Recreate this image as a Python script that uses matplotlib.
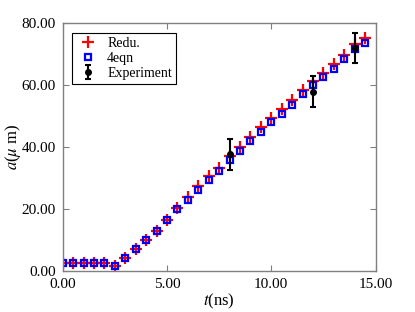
import numpy as np
import matplotlib
matplotlib.use('Agg')
import matplotlib.pyplot as plt

# time points (ns)
t = [0.0, 0.5, 1.0, 1.5, 2.0, 2.5, 3.0, 3.5, 4.0, 4.5,
     5.0, 5.5, 6.0, 6.5, 7.0, 7.5, 8.0, 8.5, 9.0, 9.5,
     10.0, 10.5, 11.0, 11.5, 12.0, 12.5, 13.0, 13.5, 14.0, 14.5]

# 4eqn model
a_4eqn = [2.5, 2.5, 2.5, 2.5, 2.5, 1.6, 4.3, 7.0, 9.9, 12.8,
          16.3, 19.9, 22.8, 26.1, 29.2, 32.3, 35.8, 38.7, 41.8, 44.7,
          47.9, 50.8, 53.7, 57.1, 60.0, 62.5, 65.3, 68.3, 71.5, 73.6]

# reduced model
a_redu = [2.5, 2.5, 2.5, 2.5, 2.5, 1.6, 4.3, 7.0, 9.9, 12.8,
          16.5, 20.3, 23.8, 27.3, 30.5, 33.2, 37.0, 40.1, 43.3, 46.3,
          49.3, 52.3, 55.3, 58.5, 61.4, 64.0, 66.8, 69.7, 73.1, 75.3]

# experiment
t_exp = [8.0, 12.0, 14.0]
a_exp = [37.7, 57.8, 71.9]
err_exp = [5.0, 5.0, 4.9]

plt.rcParams['font.family'] = ['Liberation Serif', 'DejaVu Serif']
plt.rcParams['mathtext.fontset'] = 'stix'

fig = plt.figure(figsize=(4.15, 3.12), dpi=100)
ax = fig.add_axes([0.151, 0.132, 0.754, 0.794])

ax.plot(t, a_redu, '+', color='red', markersize=8, mew=1.6, label='Redu.')
ax.plot(t, a_4eqn, 's', color='blue', mfc='none', markersize=5, mew=1.6, label='4eqn')
ax.errorbar(t_exp, a_exp, yerr=err_exp, fmt='o', color='black', markersize=4,
            elinewidth=1.5, capsize=2.5, capthick=1.5, label='Experiment')

ax.set_xlim(0, 15)
ax.set_ylim(0, 80)
ax.set_xticks([0, 5, 10, 15])
ax.set_yticks([0, 20, 40, 60, 80])
ax.xaxis.set_major_formatter(matplotlib.ticker.FormatStrFormatter('%.2f'))
ax.yaxis.set_major_formatter(matplotlib.ticker.FormatStrFormatter('%.2f'))
ax.tick_params(direction='in', top=True, right=True, length=4, width=0.8,
               color='gray', labelsize=11, pad=5)
for s in ax.spines.values():
    s.set_color('gray')
    s.set_linewidth(1.0)

ax.set_xlabel(r'$t$(ns)', fontsize=12, labelpad=1)
ax.set_ylabel(r'$a$($\mu$ m)', fontsize=12, labelpad=-1)

leg = ax.legend(loc='upper left', fontsize=10, fancybox=False, edgecolor='black',
                borderaxespad=0.7, handlelength=1.6, handletextpad=0.6,
                labelspacing=0.15, borderpad=0.3, framealpha=1)
leg.get_frame().set_linewidth(0.8)

fig.savefig('out.png', dpi=100)
